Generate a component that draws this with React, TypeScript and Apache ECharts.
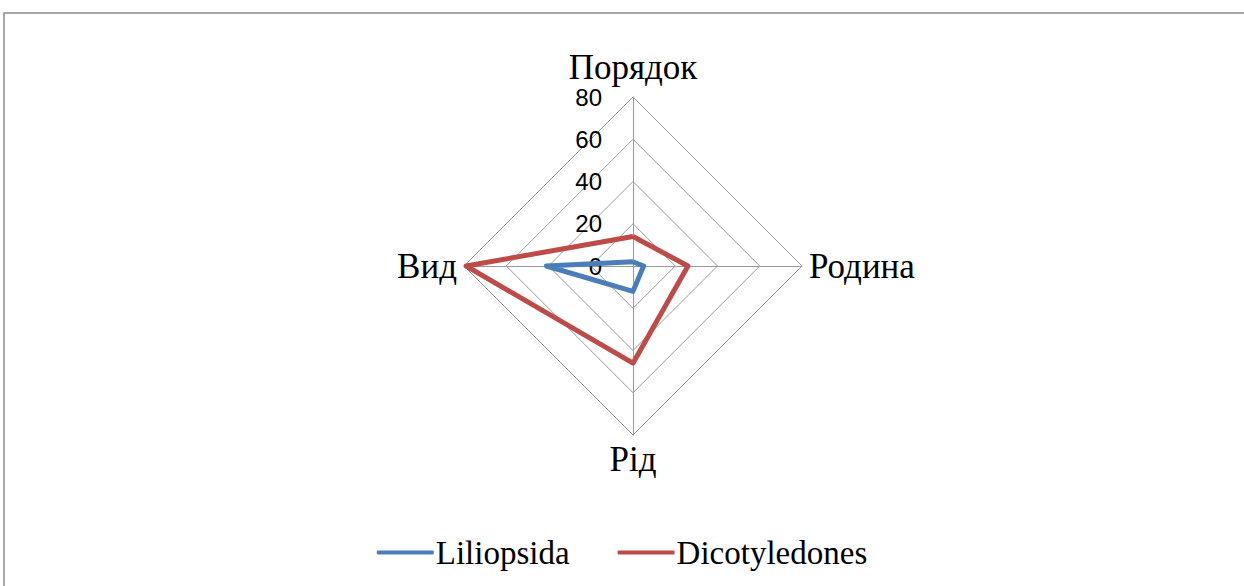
import React, { useEffect, useRef } from "react";
import * as echarts from "echarts";

const indicatorNames = ["Порядок", "Вид", "Рід", "Родина"];
const seriesNames = ["Liliopsida", "Dicotyledones"];
const liliopsida = [2, 41, 12, 5];
const dicotyledones = [14, 79, 46, 26];
const axisMax = 80;
const axisSplit = 4;

export default function App() {
  const ref = useRef<HTMLDivElement>(null);
  useEffect(() => {
    if (!ref.current) return;
    const chart = echarts.init(ref.current, undefined, { renderer: "svg" });
    chart.setOption({
      animation: false,
      backgroundColor: "#ffffff",
      graphic: [
        {
          type: "polyline",
          shape: { points: [[4, 586], [4, 13], [1244, 13]] },
          style: { stroke: "#8a8a8a", lineWidth: 1.5, fill: "none" },
          silent: true,
        },
      ],
      legend: {
        data: seriesNames,
        left: "center",
        top: 531,
        itemWidth: 57,
        itemHeight: 4,
        itemGap: 48,
        icon: "roundRect",
        textStyle: {
          fontFamily: "Liberation Serif",
          fontSize: 33,
          color: "#000",
          padding: [0, 0, 0, -3],
        },
      },
      radar: {
        center: [633, 266],
        radius: 169,
        startAngle: 90,
        shape: "polygon",
        splitNumber: axisSplit,
        nameGap: 7,
        axisName: {
          color: "#000",
          fontFamily: "Liberation Serif",
          fontSize: 35,
        },
        indicator: indicatorNames.map((n, i) =>
          i === 0
            ? { name: n, min: 0, max: axisMax }
            : { name: n, min: 0, max: axisMax, axisLabel: { show: false } }
        ),
        axisLine: { show: true, lineStyle: { color: "#999999", width: 1 } },
        splitLine: { show: true, lineStyle: { color: "#999999", width: 1 } },
        splitArea: { show: false },
        axisTick: { show: false },
        axisLabel: {
          show: true,
          color: "#000",
          fontFamily: "Liberation Sans",
          fontSize: 24,
          margin: 31,
          showMinLabel: true,
          showMaxLabel: true,
        },
      },
      series: [
        {
          type: "radar",
          symbol: "none",
          data: [
            {
              name: seriesNames[0],
              value: liliopsida,
              lineStyle: { color: "#4a7ebb", width: 5 },
              itemStyle: { color: "#4a7ebb" },
            },
            {
              name: seriesNames[1],
              value: dicotyledones,
              lineStyle: { color: "#be4b48", width: 5 },
              itemStyle: { color: "#be4b48" },
            },
          ],
        },
      ],
    });
    return () => chart.dispose();
  }, []);
  return (
    <div
      ref={ref}
      style={{ position: "fixed", left: 0, top: 0, width: 1244, height: 586 }}
    />
  );
}
